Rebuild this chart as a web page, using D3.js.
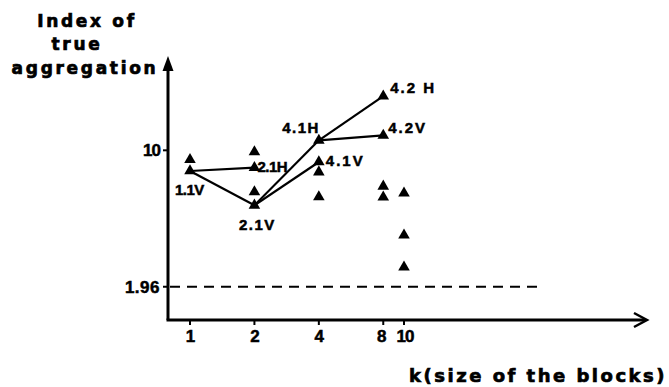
<!DOCTYPE html>
<html>
<head>
<meta charset="utf-8">
<script src="https://cdn.jsdelivr.net/npm/d3@7"></script>
<style>
  body { margin: 0; background: #fff; }
  svg { display: block; }
</style>
</head>
<body>
<div id="chart"></div>
<script>
// block sizes on the x axis
const kTicks = [1, 2, 4, 8, 10];
const yTicks = [10, 1.96];
const threshold = 1.96;

// unlabelled triangles, one array per k
const extraK1 = [9.45];
const extraK2 = [9.9, 7.55];
const extraK4 = [8.72, 7.25];
const extraK8 = [7.88, 7.24];
const extraK10 = [7.47, 5.0, 3.12];

// labelled triangles
const labels = ['1.1V', '2.1H', '2.1V', '4.1H', '4.1V', '4.2 H', '4.2V'];
const labelK = [1, 2, 2, 4, 4, 8, 8];
const labelValues = [8.78, 8.98, 6.76, 10.59, 9.31, 13.19, 10.88];

// connections between labelled points (index pairs)
const links = [[0, 1], [0, 2], [2, 3], [2, 4], [3, 5], [3, 6]];

const width = 669, height = 387;
const x0 = 168, y0 = 320;

const svg = d3.select('#chart').append('svg')
  .attr('width', width)
  .attr('height', height);

const x = d3.scaleLog().base(2)
  .domain([1, 10])
  .range([190, 404]);

const y = d3.scaleLinear()
  .domain([0, 15.5])
  .range([y0, 57]);

const ink = '#000';
const numFont = '"Liberation Sans", Arial, sans-serif';
const titleFont = '"DejaVu Sans", sans-serif';

// axes drawn as arrows
svg.append('line')
  .attr('x1', x0).attr('y1', y0)
  .attr('x2', x0).attr('y2', 66)
  .attr('stroke', ink).attr('stroke-width', 3);
svg.append('path')
  .attr('d', `M${x0},56 L${x0 - 5.5},71 L${x0 + 5.5},71 Z`)
  .attr('fill', ink);

svg.append('line')
  .attr('x1', x0 - 1.5).attr('y1', y0)
  .attr('x2', 645).attr('y2', y0)
  .attr('stroke', ink).attr('stroke-width', 3);
svg.append('path')
  .attr('d', `M634,${y0 - 7} L647,${y0} L634,${y0 + 7}`)
  .attr('fill', 'none').attr('stroke', ink).attr('stroke-width', 2.5);

// ticks
svg.append('g').selectAll('line')
  .data(kTicks).join('line')
  .attr('x1', d => x(d)).attr('x2', d => x(d))
  .attr('y1', y0).attr('y2', y0 + 5)
  .attr('stroke', ink).attr('stroke-width', 2);

svg.append('g').selectAll('text')
  .data(kTicks).join('text')
  .attr('x', d => x(d) + (d === 8 ? -2 : d === 10 ? 1 : 0))
  .attr('y', y0 + 22)
  .attr('text-anchor', 'middle')
  .style('font-family', numFont)
  .style('font-weight', 'bold')
  .style('font-size', '17px')
  .style('letter-spacing', '-1px')
  .style('stroke', ink).style('stroke-width', 0.5)
  .text(d => d);

svg.append('g').selectAll('line')
  .data(yTicks).join('line')
  .attr('x1', x0 - 5).attr('x2', x0)
  .attr('y1', d => y(d)).attr('y2', d => y(d))
  .attr('stroke', ink).attr('stroke-width', 2);

svg.append('g').selectAll('text')
  .data(yTicks).join('text')
  .attr('x', x0 - 8)
  .attr('y', d => y(d) + 6)
  .attr('text-anchor', 'end')
  .style('font-family', numFont)
  .style('font-weight', 'bold')
  .style('font-size', '17px')
  .style('letter-spacing', d => d === 10 ? '-1px' : '0.5px')
  .style('stroke', ink).style('stroke-width', 0.5)
  .text(d => d);

// 1.96 reference line
svg.append('line')
  .attr('x1', x0 + 2).attr('x2', 542)
  .attr('y1', y(threshold)).attr('y2', y(threshold))
  .attr('stroke', ink).attr('stroke-width', 2)
  .attr('stroke-dasharray', '10,7');

// lines between labelled points
svg.append('g').selectAll('line')
  .data(links).join('line')
  .attr('x1', d => x(labelK[d[0]])).attr('y1', d => y(labelValues[d[0]]))
  .attr('x2', d => x(labelK[d[1]])).attr('y2', d => y(labelValues[d[1]]))
  .attr('stroke', ink).attr('stroke-width', 2.2);

// triangles
const extras = [[1, extraK1], [2, extraK2], [4, extraK4], [8, extraK8], [10, extraK10]]
  .flatMap(([k, vals]) => vals.map(v => ({k, v})));
const labelled = labels.map((l, i) => ({k: labelK[i], v: labelValues[i], label: l}));

const tri = d3.symbol().type(d3.symbolTriangle).size(58);
svg.append('g').selectAll('path')
  .data(extras.concat(labelled)).join('path')
  .attr('transform', d => `translate(${x(d.k)},${y(d.v)})`)
  .attr('d', tri)
  .attr('fill', ink);

// point labels: dx, dy, anchor, letter spacing
const labelOffsets = {
  '1.1V': [-15, 24, 'start', -0.5],
  '2.1H': [3, 4, 'start', -0.5],
  '2.1V': [3, 25, 'middle', 1.5],
  '4.1H': [1, -7, 'end', 1.5],
  '4.1V': [7, 4, 'start', 2],
  '4.2 H': [7, -3, 'start', 2],
  '4.2V': [5, -2, 'start', 2]
};
svg.append('g').selectAll('text')
  .data(labelled).join('text')
  .attr('x', d => x(d.k) + labelOffsets[d.label][0])
  .attr('y', d => y(d.v) + labelOffsets[d.label][1])
  .attr('text-anchor', d => labelOffsets[d.label][2])
  .style('font-family', numFont)
  .style('font-weight', 'bold')
  .style('font-size', '15px')
  .style('letter-spacing', d => labelOffsets[d.label][3] + 'px')
  .style('stroke', ink).style('stroke-width', 0.5)
  .text(d => d.label);

// axis titles
const yTitle = svg.append('text')
  .attr('text-anchor', 'middle')
  .style('font-family', titleFont)
  .style('font-weight', 'bold')
  .style('font-size', '17px')
  .style('letter-spacing', '2.7px')
  .style('stroke', ink).style('stroke-width', 0.7);
yTitle.append('tspan').attr('x', 87).attr('y', 27).text('Index of');
yTitle.append('tspan').attr('x', 77).attr('y', 50).text('true');
yTitle.append('tspan').attr('x', 85).attr('y', 74).text('aggregation');

svg.append('text')
  .attr('x', 667)
  .attr('y', 382)
  .attr('text-anchor', 'end')
  .style('font-family', titleFont)
  .style('font-weight', 'bold')
  .style('font-size', '18px')
  .style('letter-spacing', '2.5px')
  .style('stroke', ink).style('stroke-width', 0.7)
  .text('k(size of the blocks)');
</script>
</body>
</html>
